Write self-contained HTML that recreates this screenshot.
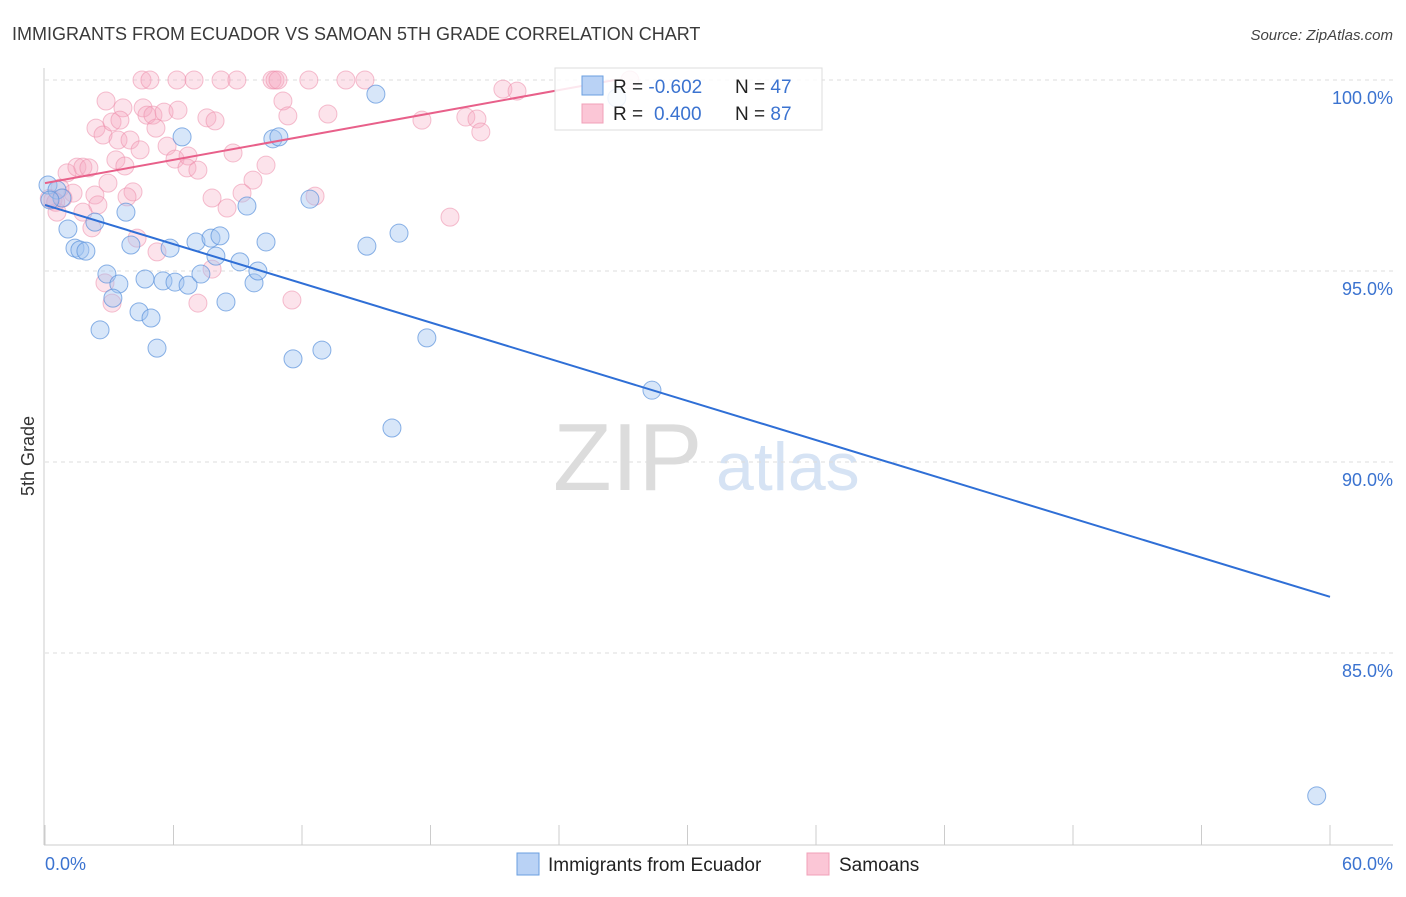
<!DOCTYPE html>
<html><head><meta charset="utf-8"><style>
body{margin:0;background:#fff;font-family:"Liberation Sans",sans-serif}
svg text{font-family:"Liberation Sans",sans-serif}
</style></head><body>
<svg id="chart" width="1406" height="892" xmlns="http://www.w3.org/2000/svg">
<text x="12" y="40" font-size="18" fill="#3a3a3a">IMMIGRANTS FROM ECUADOR VS SAMOAN 5TH GRADE CORRELATION CHART</text>
<text x="1393" y="40" font-size="15" fill="#444" font-style="italic" text-anchor="end">Source: ZipAtlas.com</text>
<g>
<text x="553" y="490" font-size="96" fill="#dcdcdc" font-family="Liberation Serif,serif">ZIP</text>
<text x="716" y="490" font-size="68" fill="#d6e3f4">atlas</text>
</g>
<g id="grid"></g>
<line x1="44" y1="68" x2="44" y2="845" stroke="#ccc"/>
<line x1="44" y1="845" x2="1393" y2="845" stroke="#ccc"/>
<text transform="translate(34,456) rotate(-90)" font-size="18" fill="#333" text-anchor="middle">5th Grade</text>
<text x="45" y="870" font-size="18" fill="#3b73d0">0.0%</text>
<text x="1393" y="870" font-size="18" fill="#3b73d0" text-anchor="end">60.0%</text>
<g id="points"></g>
<g id="trends"></g>
<g>
<rect x="555" y="68" width="267" height="62" fill="#fff" fill-opacity="0.85" stroke="#ddd"/>
<rect x="582" y="76" width="21" height="19" fill="#b9d2f5" stroke="#6a9fe0"/>
<rect x="582" y="104" width="21" height="19" fill="#fbc6d6" stroke="#f0a0b8"/>
<text x="613" y="93" font-size="19" fill="#222">R = <tspan fill="#3b73d0">-0.602</tspan><tspan x="735">N = </tspan><tspan fill="#3b73d0">47</tspan></text>
<text x="613" y="120" font-size="19" fill="#222">R = <tspan fill="#3b73d0" x="654">0.400</tspan><tspan x="735">N = </tspan><tspan fill="#3b73d0">87</tspan></text>
</g>
<g>
<rect x="517" y="853" width="22" height="22" fill="#b9d2f5" stroke="#6a9fe0"/>
<text x="548" y="871" font-size="19" fill="#222">Immigrants from Ecuador</text>
<rect x="807" y="853" width="22" height="22" fill="#fbc6d6" stroke="#f0a0b8"/>
<text x="839" y="871" font-size="19" fill="#222">Samoans</text>
</g>
</svg>
<script>
const yTicks=[100,95,90,85];
const xTickCount=10;
const blueX=[0.14,0.56,0.79,0.23,1.07,1.40,1.63,1.91,2.33,3.78,2.89,3.45,3.17,2.57,4.39,4.95,4.01,5.23,5.84,4.67,5.51,6.07,6.68,7.28,6.40,7.05,7.75,8.17,7.98,8.45,9.10,9.43,9.76,9.94,10.32,10.64,10.92,11.58,12.93,12.37,15.03,15.45,16.53,17.83,16.20,28.34,26.70,59.38];
const blueY=[97.25,97.12,96.91,96.86,96.10,95.60,95.55,95.52,96.28,96.54,94.92,94.66,94.29,93.46,93.93,93.77,95.68,92.98,95.60,94.79,94.74,94.71,94.63,94.92,98.51,95.76,95.86,95.92,95.39,94.19,95.24,96.70,94.69,95.0,95.76,98.46,98.51,92.70,92.93,96.88,95.65,99.63,95.99,93.25,90.89,91.88,99.53,81.26];
const pinkX=[4.53,4.90,6.16,6.96,8.22,8.96,10.60,10.74,10.88,12.32,14.05,14.94,27.31,2.85,3.64,4.58,4.76,5.04,5.56,6.21,7.56,7.94,11.11,11.34,13.21,2.38,2.71,3.13,3.50,5.18,3.41,3.97,4.44,5.70,3.31,3.73,6.07,6.68,6.63,7.14,8.78,10.32,9.71,9.20,7.80,8.50,12.61,1.03,1.49,1.77,2.05,2.94,0.70,1.31,4.11,3.83,2.33,2.47,1.77,0.56,2.19,4.30,5.23,2.80,3.13,7.14,7.80,11.53,0.37,0.84,17.60,19.65,20.17,20.35,21.38,22.04,18.91,0.2,0.5];
const pinkY=[100,100,100,100,100,100,100,100,100,100,100,100,100,99.45,99.27,99.27,99.08,99.08,99.16,99.21,99.01,98.93,99.45,99.06,99.11,98.74,98.56,98.90,98.95,98.74,98.43,98.43,98.17,98.27,97.91,97.75,97.93,98.01,97.70,97.64,98.09,97.77,97.38,97.04,96.91,96.65,96.96,97.57,97.72,97.72,97.70,97.30,97.17,97.04,97.07,96.94,96.99,96.73,96.54,96.54,96.13,95.86,95.50,94.69,94.16,94.16,95.05,94.24,96.86,96.91,98.95,99.03,98.98,98.64,99.76,99.71,96.41,96.9,96.8];
const blueTrendX=[0,60], blueTrendY=[96.73,86.47];
const pinkTrendX=[0,26.6], pinkTrendY=[97.30,100];
const X=v=>45+v*1285/60, Y=v=>80+(100-v)*38.2;
const NS='http://www.w3.org/2000/svg';
const g=document.getElementById('grid');
yTicks.forEach(t=>{
 const l=document.createElementNS(NS,'line');
 
 
 l.setAttribute('x1',45);l.setAttribute('x2',1393);l.setAttribute('y1',Y(t));l.setAttribute('y2',Y(t));
 l.setAttribute('stroke','#ddd');l.setAttribute('stroke-dasharray','4,4');g.appendChild(l);
 const tx=document.createElementNS(NS,'text');
 
 
 tx.setAttribute('x',1393);tx.setAttribute('y',Y(t)+24);tx.setAttribute('text-anchor','end');
 tx.setAttribute('font-size','18');tx.setAttribute('fill','#3b73d0');tx.textContent=t.toFixed(1)+'%';g.appendChild(tx);
});
for(let i=0;i<=xTickCount;i++){
 const x=X(i*60/xTickCount);
 const l=document.createElementNS(NS,'line');
 
 
 l.setAttribute('x1',x);l.setAttribute('x2',x);l.setAttribute('y1',825);l.setAttribute('y2',845);
 l.setAttribute('stroke','#ccc');g.appendChild(l);
}
const p=document.getElementById('points');
function dots(xs,ys,fill,stroke,name){
 xs.forEach((v,i)=>{
  const c=document.createElementNS(NS,'circle');
  
  
  c.setAttribute('cx',X(v));c.setAttribute('cy',Y(ys[i]));c.setAttribute('r',9);
  c.setAttribute('fill',fill);c.setAttribute('stroke',stroke);c.setAttribute('stroke-width','1');
  p.appendChild(c);
 });
}
dots(pinkX,pinkY,'rgba(246,168,194,0.32)','rgba(236,140,170,0.55)','samoan-point');
dots(blueX,blueY,'rgba(160,196,240,0.42)','rgba(90,145,220,0.7)','ecuador-point');
const tg=document.getElementById('trends');
function trend(xs,ys,col,name){
 const l=document.createElementNS(NS,'line');
 
 
 l.setAttribute('x1',X(xs[0]));l.setAttribute('y1',Y(ys[0]));l.setAttribute('x2',X(xs[1]));l.setAttribute('y2',Y(ys[1]));
 l.setAttribute('stroke',col);l.setAttribute('stroke-width','2');tg.appendChild(l);
}
trend(blueTrendX,blueTrendY,'#2f6fd6','ecuador-trend-line');
trend(pinkTrendX,pinkTrendY,'#e8608a','samoan-trend-line');
</script>
</body></html>
